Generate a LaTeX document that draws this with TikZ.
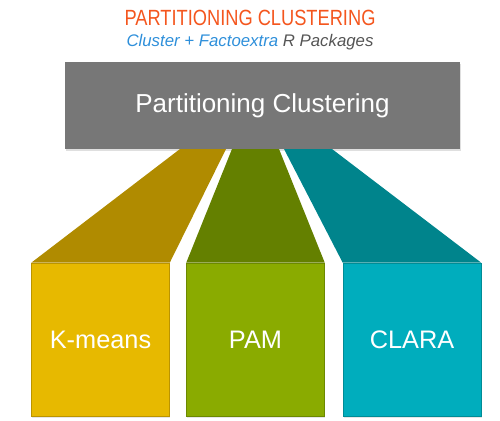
\documentclass[tikz,border=0pt]{standalone}
\usepackage{fontspec}
\setmainfont{Liberation Sans}
\newfontfamily\narrowsans[FakeStretch=0.83]{Liberation Sans}
\usepackage{tikz}
\usetikzlibrary{calc, shadows}

\definecolor{titleorange}{HTML}{F4561E}
\definecolor{pkgblue}{HTML}{2E8FDA}
\definecolor{pkggray}{HTML}{555555}
\definecolor{rootgray}{HTML}{777777}
\definecolor{kmbox}{HTML}{E7B900}
\definecolor{kmtop}{HTML}{B08B00}
\definecolor{pambox}{HTML}{8AAB00}
\definecolor{pamtop}{HTML}{648000}
\definecolor{clarabox}{HTML}{00ADBD}
\definecolor{claratop}{HTML}{00848C}

\tikzset{
  methodbox/.style={rectangle, minimum width=103.5pt, minimum height=114.75pt,
    inner sep=0pt, text=white, font=\fontsize{19}{22}\selectfont,
    drop shadow={opacity=0.2, shadow xshift=0.4pt, shadow yshift=-1.2pt}},
}

\begin{document}
\begin{tikzpicture}[x=0.75pt,y=-0.75pt]
    \useasboundingbox (0,0) rectangle (500,421);

    % titles
    \node (title) at (250,18) {\narrowsans\color{titleorange}\fontsize{16.5}{18}\selectfont PARTITIONING CLUSTERING};
    \node (subtitle) at (250,42) {\fontsize{12.6}{14}\selectfont\itshape
        \textcolor{pkgblue}{Cluster + Factoextra} \textcolor{pkggray}{R Packages}};

    % root box
    \node (root) [rectangle, fill=rootgray, minimum width=296.25pt, minimum height=65.25pt,
        inner sep=0pt, text=white, font=\fontsize{19.5}{22}\selectfont,
        drop shadow={opacity=0.25, shadow xshift=0.4pt, shadow yshift=-1.2pt}]
        at (262.5,105.5) {Partitioning Clustering};

    % method boxes
    \node (kmeans) [methodbox, fill=kmbox, draw=kmtop!80!kmbox, line width=0.4pt] at (100.5,339.5) {K-means};
    \node (pam) [methodbox, fill=pambox, draw=pamtop!80!pambox, line width=0.4pt] at (255.5,339.5) {PAM};
    \node (clara) [methodbox, fill=clarabox, draw=claratop!80!clarabox, line width=0.4pt] at (412,339.5) {CLARA};

    % feet on the root box
    \coordinate (km1) at (180,149);
    \coordinate (km2) at (226,149);
    \coordinate (pam1) at (232,149);
    \coordinate (pam2) at (279,149);
    \coordinate (cl1) at (284,149);
    \coordinate (cl2) at (332,149);

    % ramps
    \fill [kmtop] (km1) -- (km2) -- (kmeans.north east) -- (kmeans.north west) -- cycle;
    \fill [pamtop] (pam1) -- (pam2) -- (pam.north east) -- (pam.north west) -- cycle;
    \fill [claratop] (cl1) -- (cl2) -- (clara.north east) -- (clara.north west) -- cycle;
\end{tikzpicture}
\end{document}
